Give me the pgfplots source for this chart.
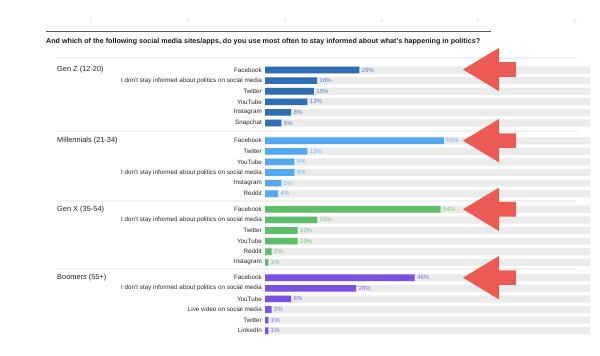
\documentclass[border=0pt]{standalone}
\usepackage{pgfplots}
\pgfplotsset{compat=1.18}
\usepackage{pgfplotstable}
\usepackage{fontspec}
\setmainfont{Liberation Sans}

\definecolor{genz}{HTML}{2F6DB5}
\definecolor{mill}{HTML}{52A9F2}
\definecolor{genx}{HTML}{5CBE68}
\definecolor{boom}{HTML}{7B50E2}
\definecolor{bggray}{HTML}{EBEBEB}
\definecolor{arrowred}{HTML}{EB5A53}
\definecolor{seprule}{HTML}{F1F1F1}

\newcommand\catfont{\fontsize{6.3}{7}\selectfont}
\newcommand\valfont{\fontsize{6}{7}\selectfont}

\pgfplotstableread{
y v lab
70.0 29 Facebook
80.6 16 {I don't stay informed about politics on social media}
91.2 15 Twitter
101.8 13 YouTube
112.4 8 Instagram
123.0 5 Snapchat
}\genztab

\pgfplotstableread{
y v lab
140.7 55 Facebook
151.3 13 Twitter
161.9 9 YouTube
172.5 9 {I don't stay informed about politics on social media}
183.1 5 Instagram
193.7 4 Reddit
}\milltab

\pgfplotstableread{
y v lab
209.3 54 Facebook
219.9 16 {I don't stay informed about politics on social media}
230.5 10 Twitter
241.1 10 YouTube
251.7 2 Reddit
262.3 1 Instagram
}\genxtab

\pgfplotstableread{
y v lab
277.7 46 Facebook
288.3 28 {I don't stay informed about politics on social media}
298.9 8 YouTube
309.5 2 {Live video on social media}
320.1 1 Twitter
330.7 1 LinkedIn
}\boomtab

\pgfplotsset{
  bgbar/.style={xbar, bar width=7.2pt, bar shift=0pt, fill=bggray, draw=none},
  catlab/.style={draw=none, mark=none, nodes near coords, point meta=explicit symbolic,
    every node near coord/.style={anchor=east, font=\catfont, text=black!85, inner sep=0pt, xshift=-3pt}},
  databar/.style={xbar, bar width=6.6pt, bar shift=0pt, fill=#1, draw=none,
    point meta=x, nodes near coords={\pgfmathprintnumber{\pgfplotspointmeta}\%},
    every node near coord/.style={anchor=west, font=\valfont, text=#1!85, inner sep=0pt, xshift=2.5pt}},
}

\begin{document}
\begin{tikzpicture}
\path[use as bounding box] (0,0) rectangle (600pt,356pt);
\begin{axis}[
  at={(0,0)}, anchor=south west,
  scale only axis, width=600pt, height=356pt,
  xmin=-81.538, xmax=103.077,
  ymin=0, ymax=356, y dir=reverse,
  hide axis, clip=false,
  /pgf/number format/assume math mode=true,
]
% background bars
\addplot[bgbar] table[x expr=100, y=y] {\genztab};
\addplot[bgbar] table[x expr=100, y=y] {\milltab};
\addplot[bgbar] table[x expr=100, y=y] {\genxtab};
\addplot[bgbar] table[x expr=100, y=y] {\boomtab};
% category labels
\addplot[catlab] table[x expr=0, y=y, meta=lab] {\genztab};
\addplot[catlab] table[x expr=0, y=y, meta=lab] {\milltab};
\addplot[catlab] table[x expr=0, y=y, meta=lab] {\genxtab};
\addplot[catlab] table[x expr=0, y=y, meta=lab] {\boomtab};
% data bars
\addplot[databar=genz] table[x=v, y=y] {\genztab};
\addplot[databar=mill] table[x=v, y=y] {\milltab};
\addplot[databar=genx] table[x=v, y=y] {\genxtab};
\addplot[databar=boom] table[x=v, y=y] {\boomtab};
\end{axis}

% annotations in picture coordinates (1pt = 1px, y from top)
\begin{scope}[x=1pt, y=-1pt, yshift=356pt]
  \foreach \n/\xx in {1/91,2/188,3/285,4/382,5/478,6/575}
    \node[font=\fontsize{6}{7}\selectfont, text=black!13] at (\xx,21) {\n};
  \draw[black!65, line width=0.8pt] (46,31) -- (491,31);
  \node[anchor=west, inner sep=0pt, font=\bfseries\fontsize{7.15}{8}\selectfont, text=black!90]
    at (46,42) {And which of the following social media sites/apps, do you use most often to stay informed about what's happening in politics?};
  \foreach \yy in {58,131,201,269}
    \draw[seprule, line width=1.6pt] (56,\yy) -- (577,\yy);
  \foreach \yy/\t in {70/{Gen Z (12-20)},140.7/{Millennials (21-34)},209.3/{Gen X (35-54)},277.7/{Boomers (55+)}}
    \node[anchor=west, inner sep=0pt, font=\fontsize{7.4}{9}\selectfont, text=black!88] at (57,\yy) {\t};
  \foreach \yy in {69.5,140.7,209.3,277.7}
    \fill[arrowred] (463,\yy) -- (499,\yy-21.7) -- (499,\yy-7.3) -- (516,\yy-7.3)
      -- (516,\yy+7.3) -- (499,\yy+7.3) -- (499,\yy+21.7) -- cycle;
\end{scope}
\end{tikzpicture}
\end{document}
